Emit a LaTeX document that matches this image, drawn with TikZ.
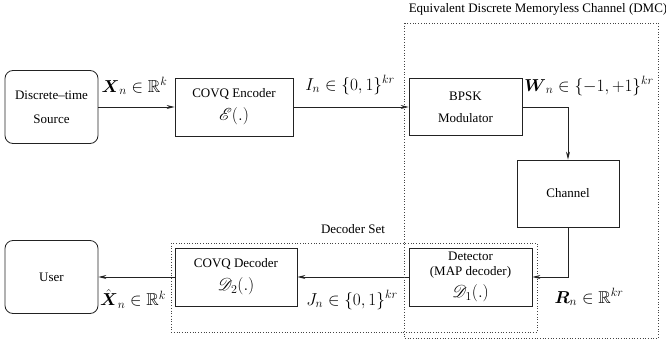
\RequirePackage{fix-cm}
\documentclass[tikz,border=0pt]{standalone}
\usepackage{amsmath,amssymb,mathrsfs}
\usepackage{fontspec}
\setmainfont{Liberation Serif}
\usepackage{tikz}
\usetikzlibrary{arrows.meta, calc}
\definecolor{blockline}{HTML}{222222}
\definecolor{setline}{HTML}{444444}
\newcommand{\blkfont}{\fontsize{13}{15}\selectfont}
\newcommand{\sigfont}{\fontsize{17.28}{20}\selectfont}
\tikzset{
  block/.style={draw=blockline, line width=0.8pt, align=center, font=\blkfont, inner sep=2pt},
  endblock/.style={block, rounded corners=8pt, minimum width=93pt, minimum height=73pt},
  flow/.style={draw=blockline, line width=0.8pt, -{Stealth[length=8pt, width=4pt]}},
  sigtag/.style={font=\sigfont, inner sep=0pt},
  setbox/.style={draw=setline, line width=0.7pt, dotted},
  settag/.style={font=\blkfont, inner sep=0pt}
}

\begin{document}
\begin{tikzpicture}[x=1pt, y=-1pt]
    \useasboundingbox (0,0) rectangle (666,356);
    \node[endblock] (source) at (51.5,107) {Discrete--time\\[9pt]Source};
    \node[block, minimum width=118pt, minimum height=58pt] (encoder) at (234,107) {COVQ Encoder\\[7pt]{\sigfont$\mathscr{E}(.)$}};
    \node[block, minimum width=113pt, minimum height=57pt] (bpsk) at (465.5,107) {BPSK\\[7pt]Modulator};
    \node[block, minimum width=102pt, minimum height=67pt] (channel) at (568,193.5) {Channel};
    \node[block, minimum width=123pt, minimum height=58pt] (detector) at (470.5,277) {Detector\\[0pt](MAP decoder)\\[5pt]{\sigfont$\mathscr{D}_1(.)$}};
    \node[block, minimum width=122pt, minimum height=58pt] (decoder) at (236,277) {COVQ Decoder\\[7pt]{\sigfont$\mathscr{D}_2(.)$}};
    \node[endblock] (user) at (51.5,277) {User};

    \draw[flow] (source.east) -- (encoder.west);
    \draw[flow] (encoder.east) -- (bpsk.west);
    \draw[flow] (bpsk.east) -| (channel.north);
    \draw[flow] (channel.south) |- (detector.east);
    \draw[flow] (detector.west) -- (decoder.east);
    \draw[flow] (decoder.west) -- (user.east);

    \node[sigtag] (xtag) at (134.5,86) {$\boldsymbol{X}_n \in \mathbb{R}^k$};
    \node[sigtag] (itag) at (350,85) {$I_n \in \{0,1\}^{kr}$};
    \node[sigtag] (wtag) at (589,86) {$\boldsymbol{W}_n \in \{-1,+1\}^{kr}$};
    \node[sigtag] (rtag) at (589,297) {$\boldsymbol{R}_n \in \mathbb{R}^{kr}$};
    \node[sigtag] (jtag) at (352,300) {$J_n \in \{0,1\}^{kr}$};
    \node[sigtag] (xhattag) at (133,299) {$\hat{\boldsymbol{X}}_n \in \mathbb{R}^k$};

    \draw[setbox] (404,23) rectangle (658,338);
    \node[settag] (dmctag) at (538,9) {Equivalent Discrete Memoryless Channel (DMC)};
    \draw[setbox] (171,243) rectangle (537,332);
    \node[settag] (settag) at (353,229) {Decoder Set};
  \end{tikzpicture}
\end{document}
